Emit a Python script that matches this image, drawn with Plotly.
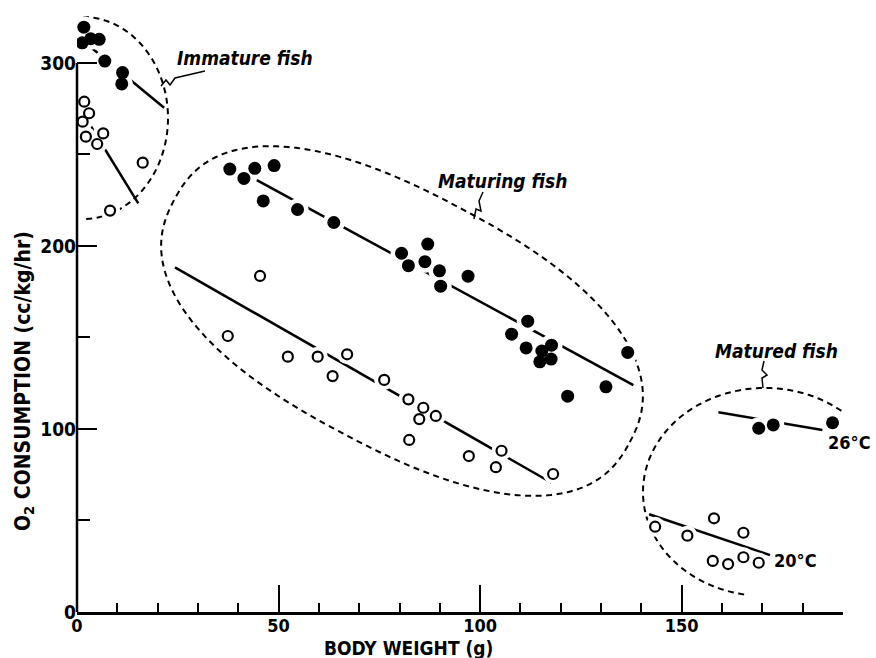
import numpy as np
import plotly.graph_objects as go

# ---------------- data ----------------
# Immature fish
imm_fill_x = [1.7, 1.3, 3.4, 5.5, 6.9, 11.3, 11.1]
imm_fill_y = [319.5, 311.0, 313.2, 312.9, 301.0, 294.7, 288.5]
imm_open_x = [1.8, 3.0, 1.4, 6.5, 2.2, 5.0, 16.3, 8.2]
imm_open_y = [278.8, 272.5, 267.9, 261.5, 259.7, 255.7, 245.5, 219.3]
imm_fill_line_x = [3.2, 21.6]
imm_fill_line_y = [309.0, 275.5]
imm_open_line_x = [2.7, 15.2]
imm_open_line_y = [268.0, 223.3]

# Maturing fish
mat_fill_x = [37.9, 41.4, 44.1, 48.9, 46.2, 54.7, 63.7, 80.5, 82.2, 87.0, 86.3, 89.9,
              90.2, 97.0, 111.8, 107.8, 111.4, 115.3, 117.7, 114.8, 117.6, 121.7, 131.2, 136.6]
mat_fill_y = [242.0, 236.9, 242.4, 243.9, 224.6, 219.9, 212.8, 196.0, 189.2, 201.0, 191.4, 186.4,
              178.0, 183.5, 158.9, 151.8, 144.3, 142.6, 145.8, 136.7, 138.2, 117.9, 123.0, 141.8]
mat_open_x = [45.4, 37.4, 52.3, 59.7, 67.0, 63.4, 76.2, 82.2, 85.9, 89.0, 84.9, 82.4,
              105.3, 97.2, 103.9, 118.1]
mat_open_y = [183.6, 150.8, 139.5, 139.5, 140.8, 128.9, 126.8, 116.2, 111.6, 107.1, 105.4, 94.0,
              88.1, 85.2, 79.1, 75.4]
mat_fill_line_x = [44.6, 138.0]
mat_fill_line_y = [236.0, 124.0]
mat_open_line_x = [24.3, 117.7]
mat_open_line_y = [188.3, 70.6]

# Matured fish
mtd_fill_x = [169.1, 172.7, 187.4]
mtd_fill_y = [100.4, 102.2, 103.4]
mtd_open_x = [143.4, 151.4, 158.0, 165.3, 157.7, 161.5, 165.3, 169.1]
mtd_open_y = [46.6, 41.7, 51.2, 43.3, 27.9, 26.2, 29.9, 26.9]
mtd_fill_line_x = [159.1, 184.9]
mtd_fill_line_y = [109.1, 99.4]
mtd_open_line_x = [141.9, 171.9]
mtd_open_line_y = [53.4, 31.1]

x_major_ticks = [0, 50, 100, 150]
y_major_ticks = [0, 100, 200, 300]

# ---------------- geometry helpers ----------------
W, H = 876, 658
ML, MR, MT, MB = 77, 33, 8, 46
XMAX, YMAX = 190, 330
PXX = (W - ML - MR) / XMAX
PXY = (H - MT - MB) / YMAX
Y0PX = H - MB


def px2d(px, py):
    return (px - ML) / PXX, (Y0PX - py) / PXY


def path_from_px(pts, close=False):
    s = []
    for i, (px, py) in enumerate(pts):
        x, y = px2d(px, py)
        s.append(("M" if i == 0 else "L") + f"{x:.3f},{y:.3f}")
    if close:
        s.append("Z")
    return " ".join(s)


def ellipse_pts(cx, cy, rx, ry, t0, t1, n=200, ang=0.0, p=2.0):
    ts = np.radians(np.linspace(t0, t1, n))
    c, s = np.cos(ts), np.sin(ts)
    u = rx * np.sign(c) * np.abs(c) ** (2.0 / p)
    v = ry * np.sign(s) * np.abs(s) ** (2.0 / p)
    a = np.radians(ang)
    px = cx + u * np.cos(a) + v * np.sin(a)
    py = cy + u * np.sin(a) - v * np.cos(a)
    return list(zip(px, py))


FONT = "Liberation Sans Narrow, DejaVu Sans Condensed, Roboto Condensed, Roboto, Arial Narrow, sans-serif"
FILL_SIZE = 13
OPEN_SIZE = 10

fig = go.Figure()

# regression lines
for lx, ly in [(imm_fill_line_x, imm_fill_line_y), (imm_open_line_x, imm_open_line_y),
               (mat_fill_line_x, mat_fill_line_y), (mat_open_line_x, mat_open_line_y),
               (mtd_fill_line_x, mtd_fill_line_y), (mtd_open_line_x, mtd_open_line_y)]:
    fig.add_trace(go.Scatter(x=lx, y=ly, mode="lines", line=dict(color="black", width=2.5),
                             hoverinfo="skip", showlegend=False))

fill_x = imm_fill_x + mat_fill_x + mtd_fill_x
fill_y = imm_fill_y + mat_fill_y + mtd_fill_y
open_x = imm_open_x + mat_open_x + mtd_open_x
open_y = imm_open_y + mat_open_y + mtd_open_y

# white halos (break the lines around the points)
fig.add_trace(go.Scatter(x=fill_x, y=fill_y, mode="markers",
                         marker=dict(color="white", size=FILL_SIZE + 9, line=dict(width=0)),
                         hoverinfo="skip", showlegend=False))
fig.add_trace(go.Scatter(x=open_x, y=open_y, mode="markers",
                         marker=dict(color="white", size=OPEN_SIZE + 10, line=dict(width=0)),
                         hoverinfo="skip", showlegend=False))
# points
fig.add_trace(go.Scatter(x=fill_x, y=fill_y, mode="markers", name="26°C",
                         marker=dict(color="black", size=FILL_SIZE, line=dict(width=0)),
                         showlegend=False))
fig.add_trace(go.Scatter(x=open_x, y=open_y, mode="markers", name="20°C",
                         marker=dict(color="white", size=OPEN_SIZE, line=dict(color="black", width=2.2)),
                         showlegend=False))

# dashed group outlines
dash = "6px,4.5px"
fig.add_shape(type="path", xref="x", yref="y", layer="below",
              path=path_from_px(ellipse_pts(83, 118, 85, 101, 90, -90)),
              line=dict(color="black", width=2, dash=dash))
fig.add_shape(type="path", xref="x", yref="y", layer="below",
              path=path_from_px(ellipse_pts(402, 321, 258, 127, 0, 360, n=300, ang=28, p=2.4), close=True),
              line=dict(color="black", width=2, dash=dash))
fig.add_shape(type="path", xref="x", yref="y", layer="below",
              path=path_from_px(ellipse_pts(765, 492, 122, 104, 46, 262)),
              line=dict(color="black", width=2, dash=dash))

# leader squiggles
for pts in [
    [(161, 86), (166, 80), (170, 85), (175, 78), (205, 71)],
    [(474, 219), (476, 209), (481, 211), (479, 201), (483, 192)],
    [(763, 388), (762, 378), (767, 375), (762, 370), (764, 361)],
]:
    fig.add_shape(type="path", xref="x", yref="y", layer="below",
                  path=path_from_px(pts), line=dict(color="black", width=1.5))

# y-axis line (only up to 300)
fig.add_shape(type="line", xref="paper", yref="paper", x0=0, x1=0, y0=0, y1=300 / YMAX,
              line=dict(color="black", width=2.5))


def lab(text, x, y, size=19, xanchor="center", italic=False, xref="x", yref="y", angle=0):
    t = f"<b>{text}</b>"
    if italic:
        t = f"<i>{t}</i>"
    fig.add_annotation(text=t, x=x, y=y, xref=xref, yref=yref, showarrow=False,
                       xanchor=xanchor, yanchor="middle", textangle=angle,
                       font=dict(family=FONT, size=size, color="black"))


lab("Immature fish", *px2d(245, 58), italic=True)
lab("Maturing fish", *px2d(502, 181), italic=True)
lab("Matured fish", *px2d(776, 351), italic=True)
lab("26°C", *px2d(826, 442), xanchor="left", size=18)
lab("20°C", *px2d(772, 560), xanchor="left", size=18)
lab("BODY WEIGHT (g)", px2d(408, 0)[0], (Y0PX - 648) / (H - MT - MB), yref="paper", size=19)
lab("O<sub>2</sub> CONSUMPTION (cc/kg/hr)", (24 - ML) / (W - ML - MR), px2d(0, 381)[1],
    xref="paper", size=21, angle=-90)

fig.update_layout(
    width=W, height=H, autosize=False,
    margin=dict(l=ML, r=MR, t=MT, b=MB, pad=0),
    plot_bgcolor="white", paper_bgcolor="white",
    font=dict(family=FONT, color="black"),
    xaxis=dict(range=[0, XMAX], showgrid=False, zeroline=False, showline=True,
               linecolor="black", linewidth=2.5,
               tickmode="array", tickvals=x_major_ticks, ticktext=[str(v) for v in x_major_ticks],
               ticks="inside", ticklen=27, tickwidth=2, tickcolor="black",
               ticklabelstandoff=-4,
               tickfont=dict(family=FONT, size=18, color="black", weight="bold"),
               minor=dict(ticks="inside", ticklen=9, tickwidth=2, tickcolor="black",
                          tickmode="linear", tick0=0, dtick=10, showgrid=False)),
    yaxis=dict(range=[0, YMAX], showgrid=False, zeroline=False, showline=False,
               tickmode="array", tickvals=y_major_ticks, ticktext=[str(v) for v in y_major_ticks],
               ticks="inside", ticklen=20, tickwidth=2, tickcolor="black",
               tickfont=dict(family=FONT, size=19, color="black", weight="bold"),
               minor=dict(ticks="inside", ticklen=13, tickwidth=2, tickcolor="black",
                          tickmode="linear", tick0=0, dtick=50, showgrid=False)),
)

fig.write_html("out.html", config={"displayModeBar": False},
               post_script="document.body.style.margin='0px';")
